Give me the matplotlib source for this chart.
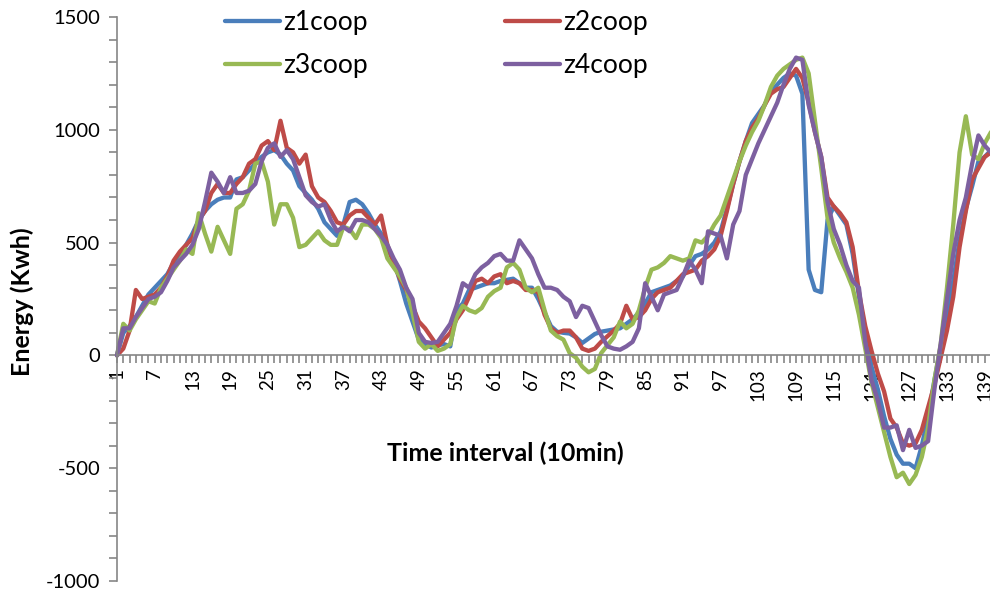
import matplotlib
matplotlib.use("Agg")
import matplotlib.pyplot as plt
from matplotlib.ticker import MultipleLocator, FixedLocator

plt.rcParams['font.family'] = ['Lato', 'DejaVu Sans']

intervals = list(range(1, 141))

z1coop = [0, 100, 130, 170, 220, 270, 300, 330, 360, 410,
          450, 490, 540, 600, 640, 670, 690, 700, 700, 780,
          790, 820, 850, 880, 900, 910, 890, 850, 820, 750,
          720, 690, 650, 590, 560, 530, 580, 680, 690, 670,
          630, 580, 540, 470, 420, 330, 230, 150, 70, 50,
          35, 45, 50, 40, 200, 230, 290, 300, 310, 320,
          320, 330, 335, 340, 320, 300, 300, 250, 190, 130,
          105, 100, 97, 80, 55, 75, 95, 105, 110, 115,
          120, 140, 160, 190, 230, 280, 290, 300, 310, 330,
          350, 400, 440, 450, 470, 500, 550, 650, 760, 860,
          950, 1030, 1070, 1110, 1170, 1200, 1230, 1250, 1240, 1160,
          380, 290, 280, 600, 660, 620, 580, 450, 260, 80,
          -50, -150, -270, -370, -440, -480, -480, -500, -400, -270,
          -110, 40, 170, 330, 510, 650, 750, 860, 880, 910]

z2coop = [0, 30, 110, 290, 250, 260, 270, 300, 350, 420,
          460, 490, 520, 600, 640, 720, 760, 720, 720, 760,
          790, 850, 870, 930, 950, 910, 1040, 920, 900, 850,
          890, 750, 700, 680, 640, 590, 580, 620, 640, 640,
          610, 580, 620, 490, 410, 340, 290, 220, 150, 120,
          80, 40, 70, 100, 160, 200, 260, 330, 340, 320,
          350, 360, 320, 330, 320, 290, 290, 280, 180, 120,
          100, 110, 110, 80, 30, 20, 30, 60, 85, 110,
          140, 220, 160, 170, 200, 250, 280, 290, 300, 330,
          360, 370, 380, 420, 440, 470, 530, 640, 760, 860,
          950, 1010, 1050, 1110, 1160, 1180, 1190, 1230, 1270, 1230,
          1120, 990, 880, 700, 660, 630, 590, 480, 280, 130,
          20, -80, -160, -280, -320, -390, -400, -390, -330, -230,
          -130, -10, 110, 260, 480, 640, 780, 830, 880, 900]

z3coop = [0, 140, 110, 160, 200, 240, 230, 300, 340, 380,
          420, 470, 450, 630, 540, 460, 570, 510, 450, 650,
          670, 730, 850, 860, 770, 580, 670, 670, 610, 480,
          490, 520, 550, 510, 490, 490, 570, 560, 520, 580,
          580, 560, 520, 430, 390, 350, 300, 190, 60, 30,
          50, 20, 30, 50, 170, 220, 200, 190, 210, 260,
          285, 300, 390, 410, 380, 300, 280, 300, 200, 110,
          85, 70, 10, -10, -50, -75, -60, 10, 45, 80,
          150, 120, 140, 200, 300, 380, 390, 410, 440, 430,
          420, 430, 510, 500, 530, 580, 620, 700, 780, 860,
          930, 990, 1040, 1110, 1190, 1240, 1270, 1290, 1310, 1320,
          1250, 1040, 830, 610, 500, 430, 370, 300, 180, 30,
          -120, -230, -340, -450, -540, -520, -570, -530, -450, -320,
          -110, 50, 300, 580, 900, 1060, 890, 870, 940, 990]

z4coop = [0, 120, 120, 170, 210, 250, 260, 280, 330, 390,
          420, 450, 490, 560, 680, 810, 770, 720, 790, 720,
          720, 730, 760, 860, 920, 940, 880, 910, 870, 790,
          710, 680, 660, 670, 600, 550, 570, 550, 600, 600,
          590, 560, 530, 490, 430, 380, 300, 250, 100, 60,
          55, 60, 100, 140, 220, 320, 300, 360, 390, 410,
          440, 450, 420, 420, 510, 470, 430, 360, 300, 300,
          290, 260, 240, 170, 220, 210, 150, 90, 40, 30,
          25, 40, 60, 120, 320, 260, 200, 270, 280, 290,
          350, 420, 380, 320, 550, 540, 530, 430, 580, 640,
          800, 870, 940, 1000, 1060, 1120, 1200, 1270, 1320, 1310,
          1110, 990, 880, 680, 560, 490, 400, 330, 300, 60,
          -110, -200, -320, -320, -310, -420, -330, -410, -400, -380,
          -150, 50, 250, 450, 600, 700, 850, 975, 930, 900]

series_names = ["z1coop", "z2coop", "z3coop", "z4coop"]
series_values = [z1coop, z2coop, z3coop, z4coop]
colors = ["#4A7EBB", "#BE4B48", "#98B954", "#7D60A0"]
xtick_values = list(range(1, 140, 6))
ytick_values = [-1000, -500, 0, 500, 1000, 1500]

W, H = 990, 596
fig = plt.figure(figsize=(W / 100, H / 100), dpi=100)
ax = fig.add_axes([117 / W, 15 / H, (991 - 117) / W, (581 - 17) / H])

handles = []
for name, vals, c in zip(series_names, series_values, colors):
    ln, = ax.plot(intervals, vals, color=c, lw=3.1, solid_joinstyle='round',
                  solid_capstyle='round', label=name, clip_on=False)
    handles.append(ln)

ax.set_xlim(1, 140)
ax.set_ylim(-1000, 1500)

gray = '#868686'
for s in ['top', 'right']:
    ax.spines[s].set_visible(False)
ax.spines['left'].set_color(gray)
ax.spines['left'].set_linewidth(1.2)
ax.spines['bottom'].set_position(('data', 0))
ax.spines['bottom'].set_color(gray)
ax.spines['bottom'].set_linewidth(1.2)

ax.yaxis.set_major_locator(FixedLocator(ytick_values))
ax.yaxis.set_minor_locator(MultipleLocator(100))
ax.set_yticklabels([str(v) for v in ytick_values])
ax.xaxis.set_major_locator(FixedLocator(xtick_values))
ax.xaxis.set_minor_locator(MultipleLocator(1))
ax.set_xticklabels([str(v) for v in xtick_values], rotation=90)

ax.tick_params(axis='both', which='both', direction='out', color=gray,
               width=1.2, length=6)
ax.tick_params(axis='y', which='major', labelsize=14.5, pad=6)
ax.tick_params(axis='x', which='major', labelsize=13.5, pad=3)

order = [0, 2, 1, 3]
ax.legend([handles[i] for i in order], [series_names[i] for i in order],
          ncol=2, loc='upper left', bbox_to_anchor=(225 / W, 1 - 10 / H),
          bbox_transform=fig.transFigure, frameon=False, fontsize=19,
          handlelength=2.1, handletextpad=0.1, columnspacing=5.2,
          labelspacing=0.68, borderpad=0, borderaxespad=0)

fig.text(22 / W, 1 - 302 / H, 'Energy (Kwh)', rotation=90, ha='center',
         va='center', fontsize=18, fontweight='bold')
fig.text(505 / W, 1 - 453 / H, 'Time interval (10min)', ha='center',
         va='center', fontsize=18, fontweight='bold')

fig.savefig('out.png', dpi=100)
